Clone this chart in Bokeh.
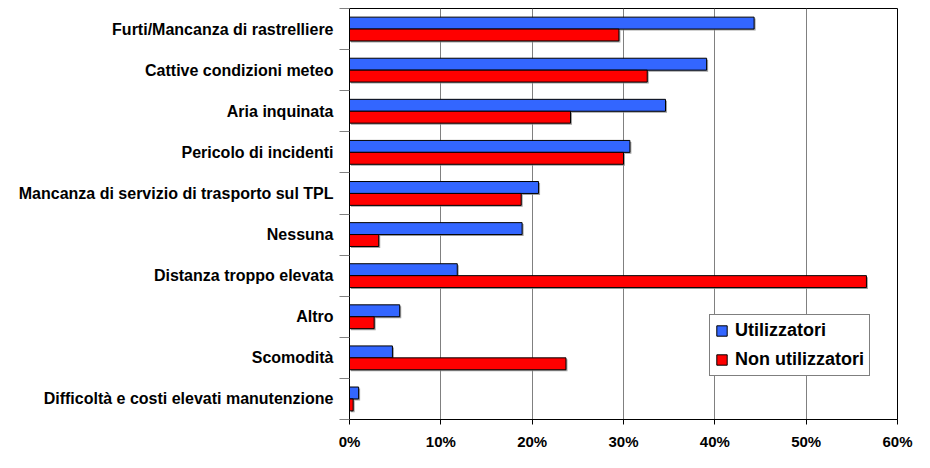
from bokeh.plotting import figure
from bokeh.models import Range1d, FixedTicker, Legend, LegendItem, ColumnDataSource
from bokeh.embed import file_html
from bokeh.resources import INLINE

# ---- data ----
categories = [
    "Furti/Mancanza di rastrelliere",
    "Cattive condizioni meteo",
    "Aria inquinata",
    "Pericolo di incidenti",
    "Mancanza di servizio di trasporto sul TPL",
    "Nessuna",
    "Distanza troppo elevata",
    "Altro",
    "Scomodità",
    "Difficoltà e costi elevati manutenzione",
]
utilizzatori = [44.3, 39.1, 34.6, 30.7, 20.7, 18.9, 11.8, 5.5, 4.7, 1.0]
non_utilizzatori = [29.5, 32.6, 24.2, 30.0, 18.8, 3.2, 56.6, 2.7, 23.7, 0.4]
x_ticks = [0, 10, 20, 30, 40, 50, 60]
x_tick_labels = ["0%", "10%", "20%", "30%", "40%", "50%", "60%"]
series_names = ["Utilizzatori", "Non utilizzatori"]

BLUE = "#3366FF"
RED = "#FF0000"
FONT = "Liberation Sans"

W, H = 914, 452
n = len(categories)
centers = [n - i - 0.5 for i in range(n)]
dodge = 0.145
bar_h = 0.29
sx = 1.5 * 60 / 548      # ~1.5 px shadow offset in x (data units)
sy = 1.5 / 41.4          # ~1.5 px shadow offset in y (data units)

src = ColumnDataSource(dict(
    cat=categories,
    u=utilizzatori,
    nu=non_utilizzatori,
    yu=[c + dodge for c in centers],
    yn=[c - dodge for c in centers],
    yus=[c + dodge - sy for c in centers],
    yns=[c - dodge - sy for c in centers],
    us=[v + sx for v in utilizzatori],
    nus=[v + sx for v in non_utilizzatori],
    zero=[sx] * n,
))

p = figure(
    width=W, height=H,
    x_range=Range1d(0, 60), y_range=Range1d(0, n),
    output_backend="svg", toolbar_location=None,
    min_border_left=349, min_border_right=17,
    min_border_top=8, min_border_bottom=30,
    outline_line_color="black",
)
p.background_fill_color = "white"
p.border_fill_color = "white"

# grid
p.xgrid.ticker = FixedTicker(ticks=x_ticks)
p.xgrid.grid_line_color = "#808080"
p.xgrid.grid_line_width = 1
p.ygrid.grid_line_color = None

# shadows
p.hbar(y="yus", left="zero", right="us", height=bar_h, source=src,
       fill_color="#8a8a8a", line_color=None, fill_alpha=0.8)
p.hbar(y="yns", left="zero", right="nus", height=bar_h, source=src,
       fill_color="#8a8a8a", line_color=None, fill_alpha=0.8)

# bars
rb = p.hbar(y="yu", left=0, right="u", height=bar_h, source=src,
            fill_color=BLUE, line_color="black", line_width=1)
rr = p.hbar(y="yn", left=0, right="nu", height=bar_h, source=src,
            fill_color=RED, line_color="black", line_width=1)

# x axis
xa = p.xaxis[0]
xa.ticker = FixedTicker(ticks=x_ticks)
xa.major_label_overrides = {t: l for t, l in zip(x_ticks, x_tick_labels)}
xa.major_label_text_font = FONT
xa.major_label_text_font_style = "bold"
xa.major_label_text_font_size = "15px"
xa.major_label_text_color = "black"
xa.major_tick_out = 5
xa.major_tick_in = 0
xa.minor_tick_line_color = None
xa.axis_line_color = "black"
xa.major_tick_line_color = "black"
xa.major_label_standoff = 8

# y axis
ya = p.yaxis[0]
ya.ticker = FixedTicker(ticks=centers, minor_ticks=list(range(n + 1)))
ya.major_label_overrides = {c: cat for c, cat in zip(centers, categories)}
ya.major_label_text_font = FONT
ya.major_label_text_font_style = "bold"
ya.major_label_text_font_size = "16px"
ya.major_label_text_color = "black"
ya.major_tick_line_color = None
ya.major_tick_out = 0
ya.major_label_standoff = 6
ya.minor_tick_line_color = "#808080"
ya.minor_tick_out = 10
ya.minor_tick_in = 0
ya.minor_tick_line_width = 1
ya.axis_line_color = "black"

# legend
legend = Legend(
    items=[LegendItem(label=series_names[0], renderers=[rb]),
           LegendItem(label=series_names[1], renderers=[rr])],
    location=(360, 43),
    orientation="vertical",
    border_line_color="black",
    border_line_width=1,
    background_fill_color="white",
    background_fill_alpha=1,
    glyph_width=13, glyph_height=13,
    label_height=20, spacing=8,
    padding=5, margin=0,
    label_standoff=7,
    label_text_font=FONT,
    label_text_font_style="bold",
    label_text_font_size="18px",
    label_text_color="black",
)
p.add_layout(legend)

open("out.html", "w").write(file_html(p, INLINE))
